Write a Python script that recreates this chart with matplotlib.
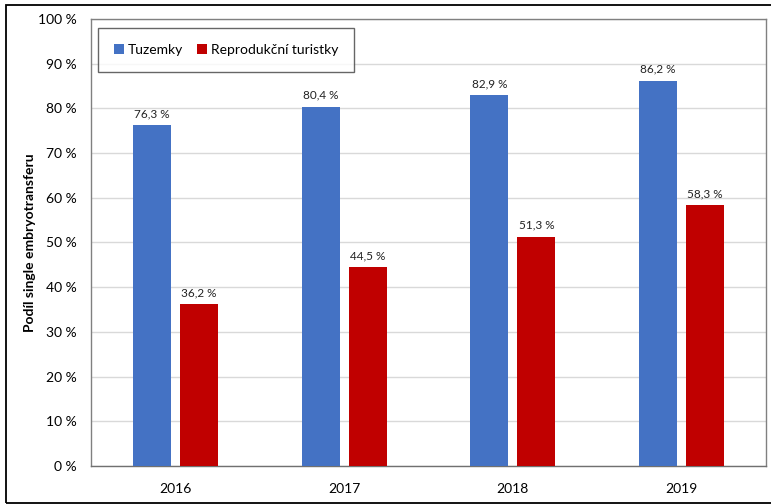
import matplotlib.pyplot as plt
from matplotlib.patches import Rectangle
import numpy as np

plt.rcParams['font.family'] = ['Lato', 'DejaVu Sans']

years = ['2016', '2017', '2018', '2019']
tuzemky = [76.3, 80.4, 82.9, 86.2]
turistky = [36.2, 44.5, 51.3, 58.3]

fig = plt.figure(figsize=(7.71, 5.04), dpi=100)
ax = fig.add_axes([0.118, 0.0754, 0.8755, 0.8869])

x = np.arange(len(years))
w = 0.225
off = 0.139
b1 = ax.bar(x - off, tuzemky, w, color='#4472C4', label='Tuzemky', zorder=3)
b2 = ax.bar(x + off, turistky, w, color='#C00000', label='Reprodukční turistky', zorder=3)

for bars, vals in ((b1, tuzemky), (b2, turistky)):
    for b, v in zip(bars, vals):
        ax.text(b.get_x() + b.get_width() / 2, v + 1.3, f'{v:.1f} %'.replace('.', ','),
                ha='center', va='bottom', fontsize=8.5, color='#222222')

ax.set_xlim(-0.5, 3.5)
ax.set_ylim(0, 100)
ax.set_xticks(x)
ax.set_xticklabels(years, fontsize=10)
ax.set_yticks(range(0, 101, 10))
ax.set_yticklabels([f'{t} %' for t in range(0, 101, 10)], fontsize=10)
ax.tick_params(length=0, pad=10)
ax.tick_params(axis='x', pad=12)
ax.yaxis.grid(True, color='#d9d9d9', linewidth=1, zorder=0)
for s in ax.spines.values():
    s.set_color('#808080')
    s.set_linewidth(1)
ax.spines['bottom'].set_color('#707070')
ax.set_ylabel('Podíl single embryotransferu', fontsize=10, fontweight='bold')
ax.yaxis.set_label_coords(-0.082, 0.5)

leg = ax.legend(loc='upper left', bbox_to_anchor=(0.0104, 0.98), ncol=2, fontsize=10,
                handlelength=0.7, handleheight=0.7, handletextpad=0.3, columnspacing=1.0,
                fancybox=False, edgecolor='#404040', borderpad=1.15, borderaxespad=0)
leg.get_frame().set_linewidth(1)

fig.patches.append(Rectangle((6 / 771, 1 / 504), 1.2, 498 / 504, transform=fig.transFigure,
                             fill=False, edgecolor='black', linewidth=1.3))

fig.savefig('out.png', dpi=100)
